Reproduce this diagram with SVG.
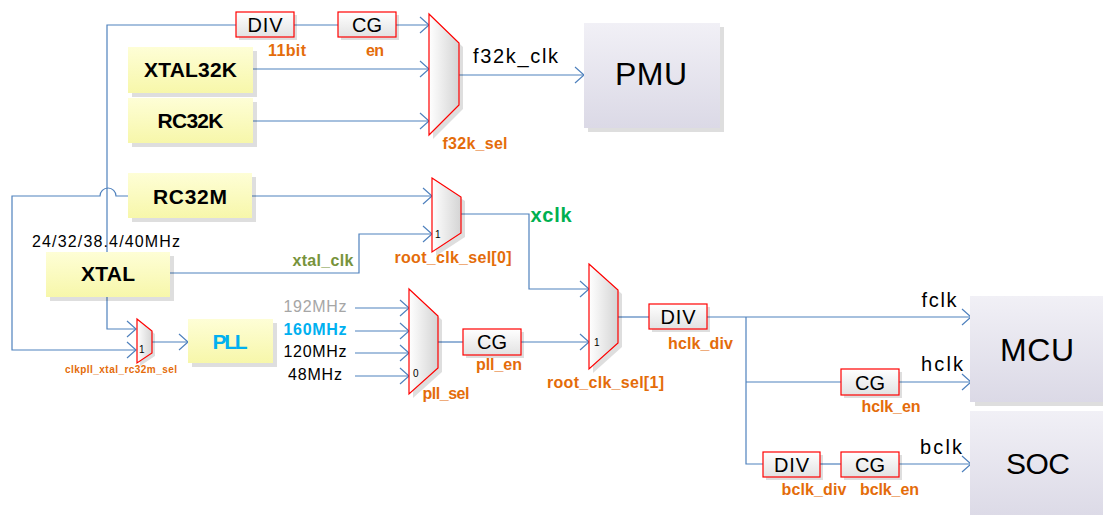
<svg xmlns="http://www.w3.org/2000/svg" width="1103" height="515" viewBox="0 0 1103 515">
<defs>
<linearGradient id="gY" x1="0" y1="0" x2="0" y2="1"><stop offset="0" stop-color="#fefed6"/><stop offset="1" stop-color="#f7f7aa"/></linearGradient>
<linearGradient id="gB" x1="0" y1="0" x2="0" y2="1"><stop offset="0" stop-color="#ffffff"/><stop offset="1" stop-color="#e2e2e2"/></linearGradient>
<linearGradient id="gM" x1="0" y1="0" x2="1" y2="0"><stop offset="0" stop-color="#ffffff"/><stop offset="1" stop-color="#d4d4d4"/></linearGradient>
<linearGradient id="gP" x1="0" y1="0" x2="0" y2="1"><stop offset="0" stop-color="#f1f0f6"/><stop offset="1" stop-color="#dbd9e6"/></linearGradient>
<marker id="arr" markerUnits="userSpaceOnUse" markerWidth="14" markerHeight="20" refX="11" refY="9" orient="auto" viewBox="0 0 14 20"><path d="M2,1 L11,9 L2,17" fill="none" stroke="#4f81bd" stroke-width="1.2"/></marker>
</defs>
<style>
.c{fill:none;stroke:#4f81bd;stroke-width:1.2}
.a{marker-end:url(#arr)}
.sh{fill:#000;opacity:.13}
.y{fill:url(#gY)}
.b{fill:url(#gB);stroke:#ff0000;stroke-width:1.2}
.m{fill:url(#gM);stroke:#ff0000;stroke-width:1.2}
.p{fill:url(#gP)}
text{font-family:"Liberation Sans",Arial,sans-serif}
.t1{font-size:21px;font-weight:bold;fill:#000;text-anchor:middle}
.t2{font-size:20px;fill:#000;text-anchor:middle}
.o{font-size:16px;font-weight:bold;fill:#e46c0a;text-anchor:middle}
.big{font-size:32px;fill:#000;text-anchor:middle}
.n{font-size:16px;text-anchor:middle;fill:#000}
.s{font-size:10px;fill:#000}
</style>
<rect width="1103" height="515" fill="#ffffff"/>

<g id="connectors">
<path class="c a" d="M236,25 H107 V329 H136"/>
<path class="c" d="M294,25 H338"/>
<path class="c a" d="M396,25 H429"/>
<path class="c a" d="M253,69 H429"/>
<path class="c a" d="M253,121 H429"/>
<path class="c a" d="M459,75 H584"/>
<path class="c a" d="M252,196 H432"/>
<path class="c a" d="M128,196 H116 A8,8 0 0 0 100,196 H12 V350 H136"/>
<path class="c a" d="M170,273 H359 V234 H432"/>
<path class="c a" d="M152,342 H188"/>
<path class="c a" d="M355,308 H409"/>
<path class="c a" d="M355,331 H409"/>
<path class="c a" d="M355,353 H409"/>
<path class="c a" d="M355,376 H409"/>
<path class="c" d="M438,342 H463"/>
<path class="c a" d="M521,342 H589"/>
<path class="c a" d="M461,214 H529 V289 H589"/>
<path class="c" d="M618,317 H649"/>
<path class="c a" d="M707,317 H971"/>
<path class="c" d="M746,317 V464 H763"/>
<path class="c" d="M746,382 H841"/>
<path class="c a" d="M899,382 H971"/>
<path class="c" d="M820,464 H841"/>
<path class="c a" d="M899,464 H971"/>
</g>

<g id="div_top">
<rect class="sh" x="239" y="15" width="58" height="25"/>
<rect class="b" x="236" y="12" width="58" height="25"/>
<text class="t2" x="265" y="31.5" textLength="35">DIV</text>
<text class="o" x="287" y="56" textLength="38">11bit</text>
</g>
<g id="cg_top">
<rect class="sh" x="341" y="15" width="58" height="25"/>
<rect class="b" x="338" y="12" width="58" height="25"/>
<text class="t2" x="367" y="31.5" textLength="30">CG</text>
<text class="o" x="375" y="56" textLength="18">en</text>
</g>
<g id="xtal32k">
<rect class="sh" x="132" y="51" width="125" height="46"/>
<rect class="y" x="128" y="47" width="125" height="46"/>
<text class="t1" x="190.5" y="77" textLength="93">XTAL32K</text>
</g>
<g id="rc32k">
<rect class="sh" x="132" y="102" width="125" height="45"/>
<rect class="y" x="128" y="98" width="125" height="45"/>
<text class="t1" x="190.5" y="128" textLength="66">RC32K</text>
</g>
<g id="mux_f32k">
<polygon class="sh" points="433,18 463,47 463,109 433,139"/>
<polygon class="m" points="429,14 459,43 459,105 429,135"/>
<text class="o" x="475" y="149" textLength="65">f32k_sel</text>
</g>
<g id="f32k_clk_label">
<text class="t2" x="515.5" y="63" textLength="85">f32k_clk</text>
</g>
<g id="pmu">
<rect class="sh" x="588" y="27" width="136" height="105"/>
<rect class="p" x="584" y="23" width="136" height="105"/>
<text class="big" x="651" y="85" font-size="31" textLength="72">PMU</text>
</g>
<g id="rc32m">
<rect class="sh" x="132" y="177" width="124" height="45"/>
<rect class="y" x="128" y="173" width="124" height="45"/>
<text class="t1" x="190" y="204" textLength="74">RC32M</text>
</g>
<g id="xtal">
<rect class="sh" x="50" y="256" width="124" height="45"/>
<rect class="y" x="46" y="252" width="124" height="45"/>
<text class="t1" x="108" y="281" textLength="54">XTAL</text>
<text class="n" x="106" y="247" font-size="17" textLength="148">24/32/38.4/40MHz</text>
</g>
<g id="mux_pll_src">
<polygon class="sh" points="140,322 155,334 155,356 140,366"/>
<polygon class="m" points="137,319 152,331 152,353 137,363"/>
<text class="s" x="139" y="353" font-size="9">1</text>
<text class="o" x="121" y="373" style="font-size:10px" textLength="112">clkpll_xtal_rc32m_sel</text>
</g>
<g id="pll">
<rect class="sh" x="192" y="323" width="85" height="44"/>
<rect class="y" x="188" y="319" width="85" height="44"/>
<text class="t1" x="230" y="349" style="fill:#00b0f0" textLength="35">PLL</text>
</g>
<g id="mux_root0">
<polygon class="sh" points="436,182 465,201 465,237 436,256"/>
<polygon class="m" points="432,178 461,197 461,233 432,252"/>
<text class="s" x="435" y="238">1</text>
<text class="o" x="453" y="263" textLength="117">root_clk_sel[0]</text>
</g>
<g id="xtal_clk_label">
<text class="o" x="323" y="266" style="fill:#77933c" textLength="61">xtal_clk</text>
</g>
<g id="xclk_label">
<text class="t1" x="551" y="222" style="fill:#00b050;font-size:20px" textLength="41">xclk</text>
</g>
<g id="freq_labels">
<text class="n" x="315" y="312" style="fill:#a6a6a6" textLength="63">192MHz</text>
<text class="n" x="315" y="335" font-weight="bold" style="fill:#00b0f0" textLength="63">160MHz</text>
<text class="n" x="315" y="357" textLength="63">120MHz</text>
<text class="n" x="315" y="380" textLength="54">48MHz</text>
</g>
<g id="mux_pll_sel">
<polygon class="sh" points="413,293 442,320 442,372 413,398"/>
<polygon class="m" points="409,289 438,316 438,368 409,394"/>
<text class="s" x="413" y="377">0</text>
<text class="o" x="446" y="399" textLength="47">pll_sel</text>
</g>
<g id="cg_pll">
<rect class="sh" x="466" y="332" width="58" height="26"/>
<rect class="b" x="463" y="329" width="58" height="26"/>
<text class="t2" x="492" y="349" textLength="30">CG</text>
<text class="o" x="499" y="370" textLength="46">pll_en</text>
</g>
<g id="mux_root1">
<polygon class="sh" points="593,268 622,294 622,347 593,373"/>
<polygon class="m" points="589,264 618,290 618,343 589,369"/>
<text class="s" x="594" y="346">1</text>
<text class="o" x="605.5" y="388" textLength="117">root_clk_sel[1]</text>
</g>
<g id="div_hclk">
<rect class="sh" x="652" y="307" width="58" height="25"/>
<rect class="b" x="649" y="304" width="58" height="25"/>
<text class="t2" x="678" y="324" textLength="35">DIV</text>
<text class="o" x="700.5" y="349" textLength="65">hclk_div</text>
</g>
<g id="cg_hclk">
<rect class="sh" x="844" y="372" width="58" height="26"/>
<rect class="b" x="841" y="369" width="58" height="26"/>
<text class="t2" x="870" y="390" textLength="30">CG</text>
<text class="o" x="891" y="412" textLength="59">hclk_en</text>
</g>
<g id="div_bclk">
<rect class="sh" x="766" y="455" width="57" height="25"/>
<rect class="b" x="763" y="452" width="57" height="25"/>
<text class="t2" x="791.5" y="472" textLength="35">DIV</text>
<text class="o" x="814" y="495" textLength="65">bclk_div</text>
</g>
<g id="cg_bclk">
<rect class="sh" x="844" y="455" width="58" height="25"/>
<rect class="b" x="841" y="452" width="58" height="25"/>
<text class="t2" x="870" y="472" textLength="30">CG</text>
<text class="o" x="889.5" y="495" textLength="59">bclk_en</text>
</g>
<g id="clk_labels">
<text class="t2" x="939" y="307" textLength="35">fclk</text>
<text class="t2" x="942" y="371" textLength="42">hclk</text>
<text class="t2" x="941" y="454" textLength="42">bclk</text>
</g>
<g id="mcu">
<rect class="sh" x="975" y="300" width="140" height="106"/>
<rect class="p" x="970" y="296" width="140" height="106"/>
<text class="big" x="1037" y="361" textLength="74">MCU</text>
</g>
<g id="soc">
<rect class="sh" x="975" y="415" width="140" height="110"/>
<rect class="p" x="970" y="411" width="140" height="110"/>
<text class="big" x="1038" y="474" style="font-size:30px" textLength="64">SOC</text>
</g>
</svg>
